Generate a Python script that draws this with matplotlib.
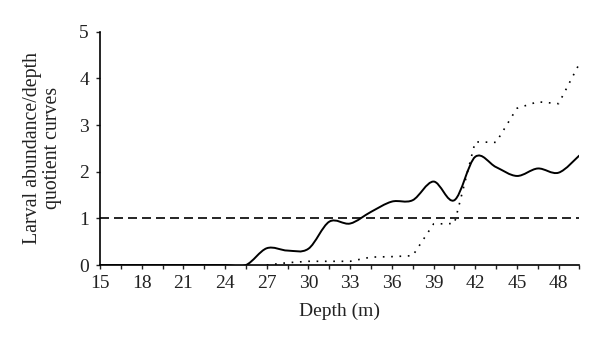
import numpy as np
import matplotlib
matplotlib.use("Agg")
import matplotlib.pyplot as plt
from matplotlib.path import Path
from matplotlib.patches import PathPatch

plt.rcParams['font.family'] = ['Liberation Serif', 'DejaVu Serif']

# depth categories (every 1.5 m), labels on every second one
depth = [15, 16.5, 18, 19.5, 21, 22.5, 24, 25.5, 27, 28.5, 30, 31.5,
         33, 34.5, 36, 37.5, 39, 40.5, 42, 43.5, 45, 46.5, 48, 49.5]

# solid curve (smoothed in the original)
solid = [0, 0, 0, 0, 0, 0, 0, 0, 0.36, 0.31, 0.35, 0.93,
         0.89, 1.14, 1.36, 1.39, 1.79, 1.39, 2.32, 2.10, 1.91, 2.07, 1.98, 2.35]

# dotted curve, starts at 27 m
dotted_depth = [27, 28.5, 30, 31.5, 33, 34.5, 36, 37.5, 39, 40.5,
                42, 43.5, 45, 46.5, 48, 49.5]
dotted = [0.0, 0.05, 0.08, 0.08, 0.08, 0.17, 0.18, 0.20, 0.88, 0.89,
          2.64, 2.63, 3.36, 3.50, 3.46, 4.32]

threshold = 1


def smooth_path(x, y):
    # Excel-like smoothed line: Catmull-Rom segments drawn as cubic Beziers
    pts = np.column_stack([x, y]).astype(float)
    n = len(pts)
    verts = [pts[0]]
    codes = [Path.MOVETO]
    for i in range(n - 1):
        p0 = pts[i - 1] if i > 0 else pts[i]
        p1 = pts[i]
        p2 = pts[i + 1]
        p3 = pts[i + 2] if i + 2 < n else pts[i + 1]
        c1 = p1 + (p2 - p0) / 6.0
        c2 = p2 - (p3 - p1) / 6.0
        verts += [c1, c2, p2]
        codes += [Path.CURVE4] * 3
    return Path(verts, codes)


fig = plt.figure(figsize=(6, 3.46), dpi=100)
ax = fig.add_axes([0.1667, 0.234, 0.799, 0.674])

ax.add_patch(PathPatch(smooth_path(depth, solid), facecolor='none',
                       edgecolor='black', lw=1.4))
ax.plot(dotted_depth, dotted, color='black', lw=1.2, linestyle=(0, (1, 4)))
ax.plot([depth[0], depth[-1]], [threshold, threshold], color='black',
        lw=1.2, linestyle=(0, (5.4, 3)))

ax.set_xlim(15, 49.5)
ax.set_ylim(0, 5)
ax.set_xticks(depth)
ax.set_xticklabels([str(int(d)) if i % 2 == 0 else '' for i, d in enumerate(depth)])
ax.set_yticks([0, 1, 2, 3, 4, 5])

for s in ['top', 'right']:
    ax.spines[s].set_visible(False)
ax.spines['left'].set_linewidth(1.2)
ax.spines['bottom'].set_linewidth(1.2)
ax.tick_params(direction='out', length=3, width=1, labelsize=14,
               colors='#222222')
ax.tick_params(axis='x', pad=4)
ax.tick_params(axis='y', pad=5)

ax.set_xlabel('Depth (m)', fontsize=14, color='#222222')
ax.set_ylabel('Larval abundance/depth\nquotient curves', fontsize=14.3,
              linespacing=1.1, color='#222222')
ax.yaxis.set_label_coords(-0.079, 0.5)
ax.xaxis.set_label_coords(0.5, -0.163)

fig.savefig('out.png', dpi=100)
